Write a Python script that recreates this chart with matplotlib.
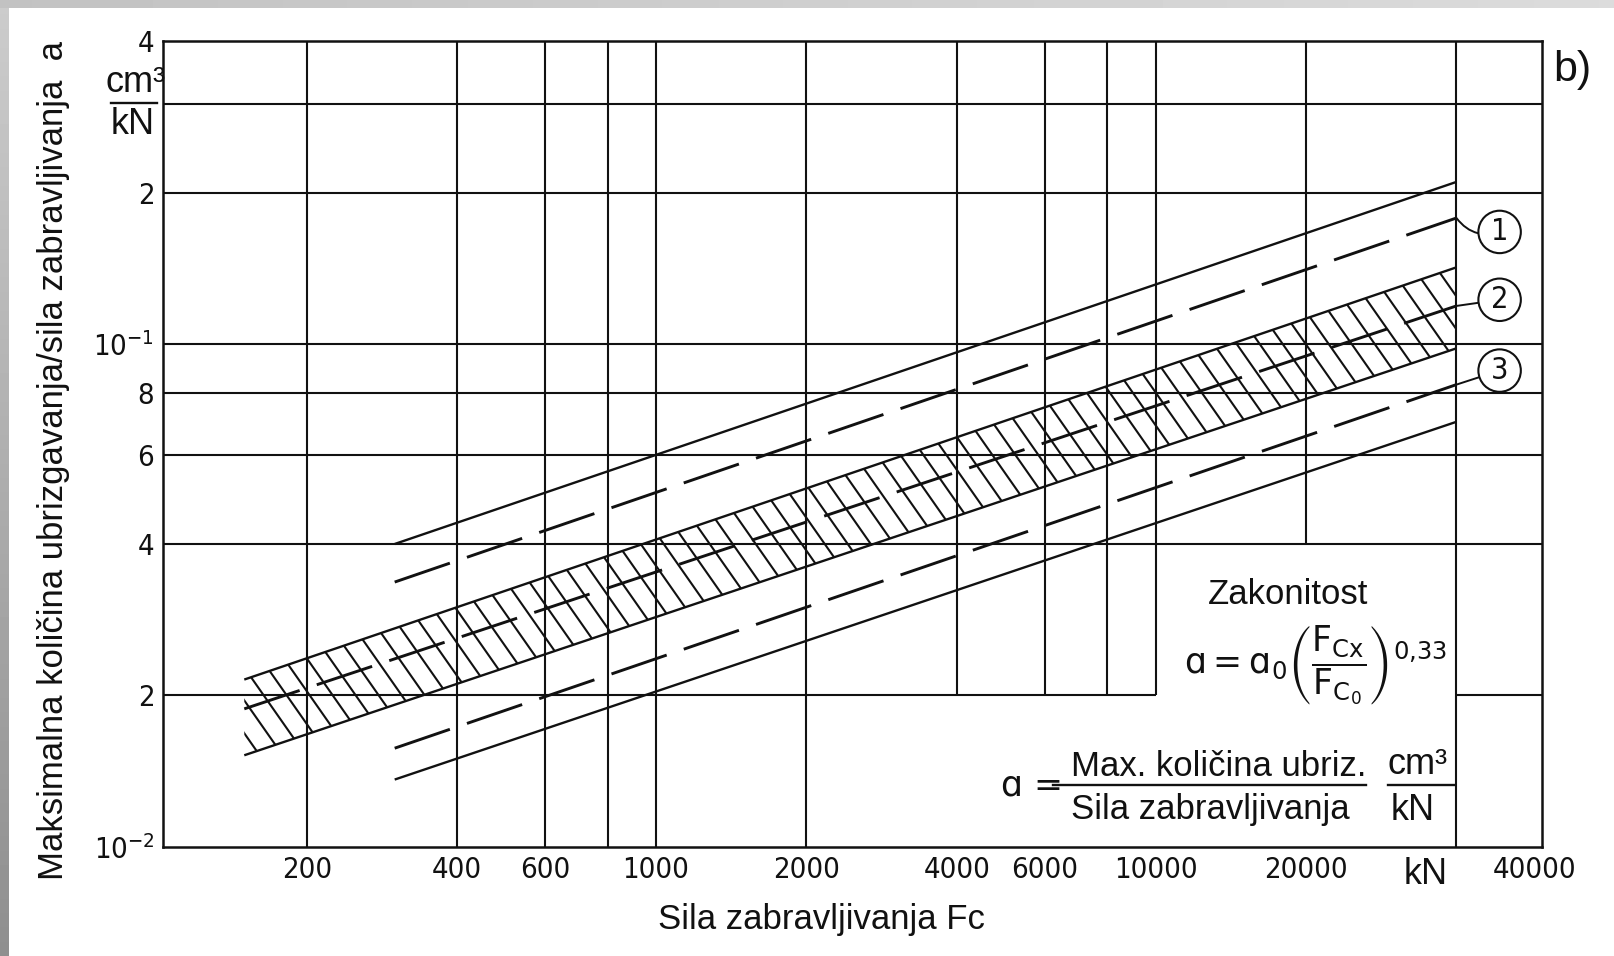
import numpy as np
import matplotlib
matplotlib.use("Agg")
import matplotlib.pyplot as plt
from matplotlib.collections import LineCollection
from matplotlib.ticker import NullLocator
from matplotlib.lines import Line2D

# ---- data: specific shot volume a (cm3/kN) against clamping force Fc (kN) ----
upper_x = [300, 40000]
upper_y = [0.040, 0.21]

line1_x = [300, 40000]
line1_y = [0.0336, 0.178]

band_x = [150, 40000]
band_hi = [0.0215, 0.142]
band_lo = [0.0152, 0.098]

line2_x = [150, 40000]
line2_y = [0.0188, 0.119]

line3_x = [300, 40000]
line3_y = [0.0157, 0.083]

lower_x = [300, 40000]
lower_y = [0.0136, 0.070]

x_ticks = [200, 400, 600, 1000, 2000, 4000, 6000, 10000, 20000]
x_tick_labels = ["200", "400", "600", "1000", "2000", "4000", "6000", "10000", "20000"]
y_ticks = [0.01, 0.02, 0.04, 0.06, 0.08, 0.1, 0.2, 0.4]
y_tick_labels = [r"$\mathregular{10^{-2}}$", "2", "4", "6", "8",
                 r"$\mathregular{10^{-1}}$", "2", "4"]

# grid of the nomogram
vgrid_full = [200, 400, 600, 800, 1000, 2000, 40000]
vgrid_to_002 = [4000, 6000, 8000, 10000]
vgrid_to_004 = [20000]
hgrid_full = [0.04, 0.06, 0.08, 0.1, 0.2, 0.3]
hgrid_split = 0.02

circle_labels = ["1", "2", "3"]
circle_x = 48800
circle_y = [0.167, 0.1224, 0.0885]

X_LIM = (103, 59300)
Y_LIM = (0.01, 0.4)

# ---- layout ----
W_PX, H_PX, DPI = 1615, 956, 100
AX_L, AX_R, AX_T, AX_B = 162.7, 1541.9, 41.2, 846.7
INK = "#111111"
SANS = ["Liberation Sans", "DejaVu Sans"]
ISO = ["DejaVu Sans"]


def fx(px):
    return px / W_PX


def fy(py):
    return 1 - py / H_PX


plt.rcParams["lines.scale_dashes"] = False
fig = plt.figure(figsize=(W_PX / DPI, H_PX / DPI), dpi=DPI, facecolor="white")

# scanner edge shading
edge_l = fig.add_axes([0, 0, 9 / W_PX, 1])
edge_l.imshow(np.linspace(0.80, 0.56, 200)[:, None], cmap="gray", vmin=0, vmax=1,
              aspect="auto", extent=[0, 1, 0, 1])
edge_l.axis("off")
edge_t = fig.add_axes([0, 1 - 8 / H_PX, 1, 8 / H_PX])
edge_t.imshow(np.linspace(0.76, 0.86, 200)[None, :], cmap="gray", vmin=0, vmax=1,
              aspect="auto", extent=[0, 1, 0, 1])
edge_t.axis("off")

ax = fig.add_axes([fx(AX_L), fy(AX_B), (AX_R - AX_L) / W_PX, (AX_B - AX_T) / H_PX])
ax.set_xscale("log")
ax.set_yscale("log")
ax.set_xlim(*X_LIM)
ax.set_ylim(*Y_LIM)
ax.set_facecolor("white")

for s in ax.spines.values():
    s.set_linewidth(1.8)
    s.set_color(INK)

# grid
glw = 1.5
ax.vlines(vgrid_full, Y_LIM[0], Y_LIM[1], colors=INK, lw=glw)
ax.vlines(vgrid_to_002, hgrid_split, Y_LIM[1], colors=INK, lw=glw)
ax.vlines(vgrid_to_004, 0.04, Y_LIM[1], colors=INK, lw=glw)
ax.hlines(hgrid_full, X_LIM[0], X_LIM[1], colors=INK, lw=glw)
ax.hlines(hgrid_split, X_LIM[0], 10000, colors=INK, lw=glw)
ax.hlines(hgrid_split, 40000, X_LIM[1], colors=INK, lw=glw)

# hatched band
band = ax.fill_between(band_x, band_lo, band_hi, facecolor="none", edgecolor="none")
ax_w, ax_h = AX_R - AX_L, AX_B - AX_T
theta = np.deg2rad(55)
run = (ax_h / np.tan(theta)) / ax_w
step = 23 / ax_w
starts = np.arange(-run, 1.0, step)
segs = [[(s0, 1.0), (s0 + run, 0.0)] for s0 in starts]
hatch = LineCollection(segs, transform=ax.transAxes, colors=INK, linewidths=1.5)
ax.add_collection(hatch, autolim=False)
hatch.set_clip_path(band.get_paths()[0], ax.transData)

solid_kw = dict(color=INK, lw=1.7, solid_capstyle="butt")
dash_kw = dict(color=INK, lw=2.1, dashes=(42, 13), dash_capstyle="butt")

ax.plot(upper_x, upper_y, **solid_kw)
ax.plot(band_x, band_hi, **solid_kw)
ax.plot(band_x, band_lo, **solid_kw)
ax.plot(lower_x, lower_y, **solid_kw)
ax.plot(line1_x, line1_y, **dash_kw)
ax.plot(line2_x, line2_y, **dash_kw)
ax.plot(line3_x, line3_y, **dash_kw)

ax.set_xlim(*X_LIM)
ax.set_ylim(*Y_LIM)

# circled curve numbers with leaders
ends = [(line1_x[-1], line1_y[-1]), (line2_x[-1], line2_y[-1]), (line3_x[-1], line3_y[-1])]
rads = [-0.35, 0.0, 0.0]
for lab, cy, end, rad in zip(circle_labels, circle_y, ends, rads):
    ax.annotate(lab, xy=end, xytext=(circle_x, cy), textcoords="data",
                ha="center", va="center", fontsize=22, family=ISO,
                fontstretch="condensed", color=INK,
                bbox=dict(boxstyle="circle,pad=0.22", fc="white", ec=INK, lw=1.5),
                arrowprops=dict(arrowstyle="-", color=INK, lw=1.4, shrinkA=0, shrinkB=0,
                                connectionstyle=f"arc3,rad={rad}"),
                annotation_clip=False)

# ticks
ax.xaxis.set_minor_locator(NullLocator())
ax.yaxis.set_minor_locator(NullLocator())
ax.set_xticks(x_ticks, x_tick_labels, fontsize=21, family=ISO, fontstretch="condensed", color=INK)
ax.set_yticks(y_ticks, y_tick_labels, fontsize=21, family=ISO, fontstretch="condensed", color=INK)
ax.tick_params(axis="both", length=0)
ax.tick_params(axis="x", pad=7)
ax.tick_params(axis="y", pad=6)

fig.text(fx(1535), fy(870), "40000", ha="center", va="center", fontsize=21,
         family=ISO, fontstretch="condensed", color=INK)
fig.text(fx(1426), fy(874), "kN", ha="center", va="center", fontsize=26, family=SANS, color=INK)

# axis titles
fig.text(fx(54), fy(461), "Maksimalna količina ubrizgavanja/sila zabravljivanja  a",
         rotation=90, ha="center", va="center", fontsize=25, family=SANS, color=INK)
fig.text(fx(821), fy(920), "Sila zabravljivanja Fc", ha="center", va="center",
         fontsize=25, family=SANS, color=INK)

# unit of the vertical axis
fig.text(fx(136), fy(82), "cm³", ha="center", va="center", fontsize=26, family=SANS, color=INK)
fig.text(fx(133), fy(124), "kN", ha="center", va="center", fontsize=26, family=SANS, color=INK)
fig.add_artist(Line2D([fx(111), fx(157)], [fy(103), fy(103)], color=INK, lw=1.7))

fig.text(fx(1572), fy(70), "b)", ha="center", va="center", fontsize=31, family=SANS, color=INK)

# law of the curves
fig.text(fx(1288), fy(595), "Zakonitost", ha="center", va="center", fontsize=25,
         family=SANS, color=INK)
fig.text(fx(1184), fy(665),
         r"$\mathrm{ɑ=ɑ_{0}}\left(\dfrac{\mathrm{F_{Cx}}}{\mathrm{F_{C_0}}}\right)^{\mathrm{0{,}33}}$",
         ha="left", va="center", fontsize=25, math_fontfamily="dejavusans", color=INK)

# definition of a
fig.text(fx(1001), fy(786), "ɑ =", ha="left", va="center", fontsize=25, family=ISO, color=INK)
fig.add_artist(Line2D([fx(1053), fx(1366)], [fy(785), fy(785)], color=INK, lw=1.7))
fig.text(fx(1071), fy(766), "Max. količina ubriz.", ha="left", va="center", fontsize=25,
         family=SANS, color=INK)
fig.text(fx(1071), fy(810), "Sila zabravljivanja", ha="left", va="center", fontsize=25,
         family=SANS, color=INK)
fig.text(fx(1388), fy(764), "cm³", ha="left", va="center", fontsize=26, family=SANS, color=INK)
fig.add_artist(Line2D([fx(1388), fx(1455)], [fy(785), fy(785)], color=INK, lw=1.7))
fig.text(fx(1413), fy(810), "kN", ha="center", va="center", fontsize=26, family=SANS, color=INK)

fig.savefig("out.png", dpi=DPI, facecolor="white")
